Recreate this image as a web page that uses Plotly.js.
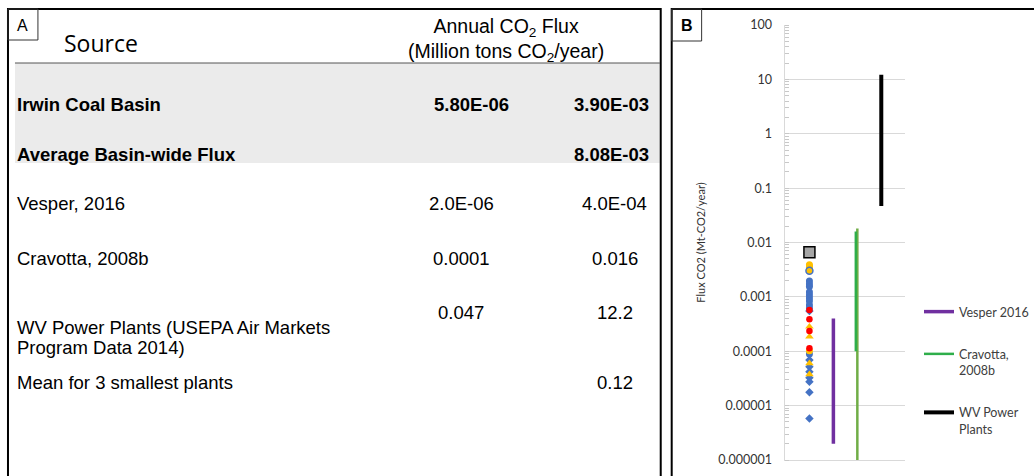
<!DOCTYPE html>
<html>
<head>
<meta charset="utf-8">
<script src="https://cdn.plot.ly/plotly-3.0.1.min.js"></script>
<style>
  html, body { margin: 0; padding: 0; background: #fff; }
  #fig { width: 1034px; height: 476px; }
</style>
</head>
<body>
<div id="fig"></div>
<script>
// ---- Panel A: flux table ----
const tableSources = [
  'Irwin Coal Basin',
  'Average Basin-wide Flux',
  'Vesper, 2016',
  'Cravotta, 2008b',
  'WV Power Plants (USEPA Air Markets<br>Program Data 2014)',
  'Mean for 3 smallest plants'
];
const tableMin = ['5.80E-06', '', '2.0E-06', '0.0001', '0.047', ''];
const tableMax = ['3.90E-03', '8.08E-03', '4.0E-04', '0.016', '12.2', '0.12'];
const tableBold = [true, true, false, false, false, false];

// ---- Panel B: flux ranges (Mt CO2 / year) ----
const categories = ['Irwin Coal Basin', 'Vesper 2016', 'Cravotta, 2008b', 'WV Power Plants'];
const irwinBlueCircles = [0.00196, 0.00173, 0.00155, 0.00123, 0.00108, 0.000953, 0.00084, 0.00071, 0.000624, 0.0000891];
const irwinBlueDiamonds = [0.00055, 0.000069, 0.000052, 0.000042, 0.0000327, 0.0000276, 0.0000176, 0.0000058];
const irwinYellowCircles = [0.0039, 0.0037, 0.00347, 0.000102];
const irwinYellowRing = [0.00303];
const irwinYellowTriangles = [0.000283, 0.000185, 0.00006, 0.0000377];
const irwinRedCircles = [0.000574, 0.000387, 0.000236, 0.000113];
const basinAverage = [0.0066];
const vesperRange = [2.0e-6, 4.0e-4];
const cravottaRange = [1.0e-4, 0.016];
const cravottaExtent = [1.0e-6, 0.018];
const wvRange = [0.047, 12.2];

const tickVals = [1e-6, 1e-5, 1e-4, 1e-3, 1e-2, 1e-1, 1, 10, 100];
const tickText = ['0.000001', '0.00001', '0.0001', '0.001', '0.01', '0.1', '1', '10', '100'];

// ---- layout helpers (pixel -> paper) ----
const W = 1034, H = 476;
const px = v => v / W;
const py = v => 1 - v / H;

const tableFont = 'Liberation Sans, Arial, sans-serif';
const chartFont = 'Lato, Open Sans, sans-serif';

const annotations = [];
function addText(text, x, y, opts) {
  annotations.push(Object.assign({
    text: text, x: px(x), y: py(y), xref: 'paper', yref: 'paper',
    showarrow: false, xanchor: 'center', yanchor: 'middle',
    font: { family: tableFont, size: 18, color: '#000' }
  }, opts || {}));
}

// panel letters and headers
addText('A', 23, 25, { font: { family: tableFont, size: 16, color: '#000' } });
addText('B', 688, 25, { font: { family: tableFont, size: 16, color: '#000', weight: 'bold' } });
addText('Source', 62, 43, { xanchor: 'left', font: { family: 'Open Sans, sans-serif', size: 23, color: '#000' } });
addText('Annual CO<sub>2</sub> Flux<br>(Million tons CO<sub>2</sub>/year)', 507, 40,
  { font: { family: tableFont, size: 19.5, color: '#000' } });

// table rows
const rowY = [104, 155, 203, 258, 312, 382];
const labelLineGap = 20;
tableSources.forEach((label, i) => {
  const fnt = { family: tableFont, size: 18.5, color: '#000', weight: tableBold[i] ? 'bold' : 'normal' };
  const lines = label.split('<br>');
  const labelY = i === 4 ? 327 : rowY[i];
  lines.forEach((ln, k) => {
    const t = tableBold[i] ? '<b>' + ln + '</b>' : ln;
    addText(t, 15, labelY + k * labelLineGap, { xanchor: 'left', font: fnt });
  });
  if (tableMin[i]) addText(tableBold[i] ? '<b>' + tableMin[i] + '</b>' : tableMin[i], tableBold[i] ? 472 : 462, rowY[i], { font: fnt });
  if (tableMax[i]) addText(tableBold[i] ? '<b>' + tableMax[i] + '</b>' : tableMax[i], tableBold[i] ? 613 : 616, rowY[i], { font: fnt });
});

const shapes = [
  // shaded basin rows
  { type: 'rect', xref: 'paper', yref: 'paper', x0: px(15), x1: px(661), y0: py(63), y1: py(163), fillcolor: '#ebebeb', line: { width: 0 }, layer: 'below' },
  // header rule
  { type: 'line', xref: 'paper', yref: 'paper', x0: px(15), x1: px(661), y0: py(63), y1: py(63), line: { color: '#555', width: 1 } },
  // panel frames
  { type: 'rect', xref: 'paper', yref: 'paper', x0: px(8), x1: px(662), y0: py(9), y1: py(490), line: { color: '#000', width: 2 } },
  { type: 'rect', xref: 'paper', yref: 'paper', x0: px(673), x1: px(1045), y0: py(9), y1: py(490), line: { color: '#000', width: 2 } },
  // letter boxes
  { type: 'rect', xref: 'paper', yref: 'paper', x0: px(8), x1: px(38), y0: py(9), y1: py(40), line: { color: '#333', width: 1 } },
  { type: 'rect', xref: 'paper', yref: 'paper', x0: px(673), x1: px(703), y0: py(9), y1: py(41), line: { color: '#333', width: 1 } }
];

function pts(vals, cat) { return vals.map(() => cat); }

const traces = [
  { x: pts(irwinBlueCircles, categories[0]), y: irwinBlueCircles, type: 'scatter', mode: 'markers', showlegend: false, hoverinfo: 'y',
    marker: { symbol: 'circle', size: 7, color: '#4472C4' } },
  { x: pts(irwinBlueDiamonds, categories[0]), y: irwinBlueDiamonds, type: 'scatter', mode: 'markers', showlegend: false, hoverinfo: 'y',
    marker: { symbol: 'diamond', size: 6.5, color: '#4472C4' } },
  { x: pts(irwinYellowCircles, categories[0]), y: irwinYellowCircles, type: 'scatter', mode: 'markers', showlegend: false, hoverinfo: 'y',
    marker: { symbol: 'circle', size: 7, color: '#FFC000' } },
  { x: pts(irwinYellowRing, categories[0]), y: irwinYellowRing, type: 'scatter', mode: 'markers', showlegend: false, hoverinfo: 'y',
    marker: { symbol: 'circle', size: 7, color: '#FFC000', line: { color: '#4472C4', width: 1.5 } } },
  { x: pts(irwinYellowTriangles, categories[0]), y: irwinYellowTriangles, type: 'scatter', mode: 'markers', showlegend: false, hoverinfo: 'y',
    marker: { symbol: 'triangle-up', size: 7.5, color: '#FFC000' } },
  { x: pts(irwinRedCircles, categories[0]), y: irwinRedCircles, type: 'scatter', mode: 'markers', showlegend: false, hoverinfo: 'y',
    marker: { symbol: 'circle', size: 6.5, color: '#FF0000' } },
  { x: pts(basinAverage, categories[0]), y: basinAverage, type: 'scatter', mode: 'markers', showlegend: false, hoverinfo: 'y',
    marker: { symbol: 'square', size: 11, color: '#A5A5A5', line: { color: '#000', width: 1.5 } } },

  { x: pts(vesperRange, categories[1]), y: vesperRange, type: 'scatter', mode: 'lines', name: 'Vesper 2016', legendgroup: 'v',
    line: { color: '#7030A0', width: 3.5 } },
  { x: pts(cravottaExtent, categories[2]), y: cravottaExtent, type: 'scatter', mode: 'lines', showlegend: false,
    line: { color: '#70AD47', width: 2.5 } },
  { x: pts(cravottaRange, categories[2]), y: cravottaRange, type: 'scatter', mode: 'lines', name: 'Cravotta,<br>2008b', legendgroup: 'c',
    xaxis: 'x2', line: { color: '#2EAE4A', width: 2.5 } },
  { x: pts(wvRange, categories[3]), y: wvRange, type: 'scatter', mode: 'lines', name: 'WV Power<br>Plants', legendgroup: 'w',
    line: { color: '#000', width: 4 } }
];

const shift = 1.5 / 24;
const layout = {
  width: W, height: H,
  margin: { l: 0, r: 0, t: 0, b: 0, pad: 0 },
  paper_bgcolor: '#fff', plot_bgcolor: '#fff',
  showlegend: true,
  legend: {
    x: px(921), xanchor: 'left', y: py(297), yanchor: 'top',
    font: { family: chartFont, size: 12.5, color: '#404040' },
    bgcolor: 'rgba(0,0,0,0)', traceorder: 'grouped', tracegroupgap: 23, valign: 'top', itemwidth: 30
  },
  xaxis: {
    type: 'category', categoryorder: 'array', categoryarray: categories,
    range: [-1, 4], domain: [px(787), px(907)],
    showticklabels: false, ticks: '', showgrid: false, zeroline: false,
    showline: true, linecolor: '#d9d9d9', linewidth: 1, fixedrange: true
  },
  xaxis2: {
    type: 'category', categoryorder: 'array', categoryarray: categories,
    overlaying: 'x', range: [-1 + shift, 4 + shift], domain: [px(787), px(907)], visible: false, fixedrange: true
  },
  yaxis: {
    type: 'log', range: [-6, 2], domain: [py(460), py(25)],
    tickmode: 'array', tickvals: tickVals, ticktext: tickText,
    ticks: '', ticklabelstandoff: 10,
    tickfont: { family: chartFont, size: 12.5, color: '#333' },
    showgrid: true, gridcolor: '#d9d9d9', gridwidth: 1,
    showline: true, linecolor: '#d9d9d9', linewidth: 1, zeroline: false,
    minor: { ticks: 'inside', ticklen: 4, tickcolor: '#c8c8c8', dtick: 'D1', showgrid: false },
    title: { text: 'Flux CO2 (Mt-CO2/year)', font: { family: chartFont, size: 11, color: '#333' }, standoff: 10 },
    automargin: false, fixedrange: true
  },
  shapes: shapes,
  annotations: annotations
};

Plotly.newPlot('fig', traces, layout, { displayModeBar: false, staticPlot: true });
</script>
</body>
</html>
